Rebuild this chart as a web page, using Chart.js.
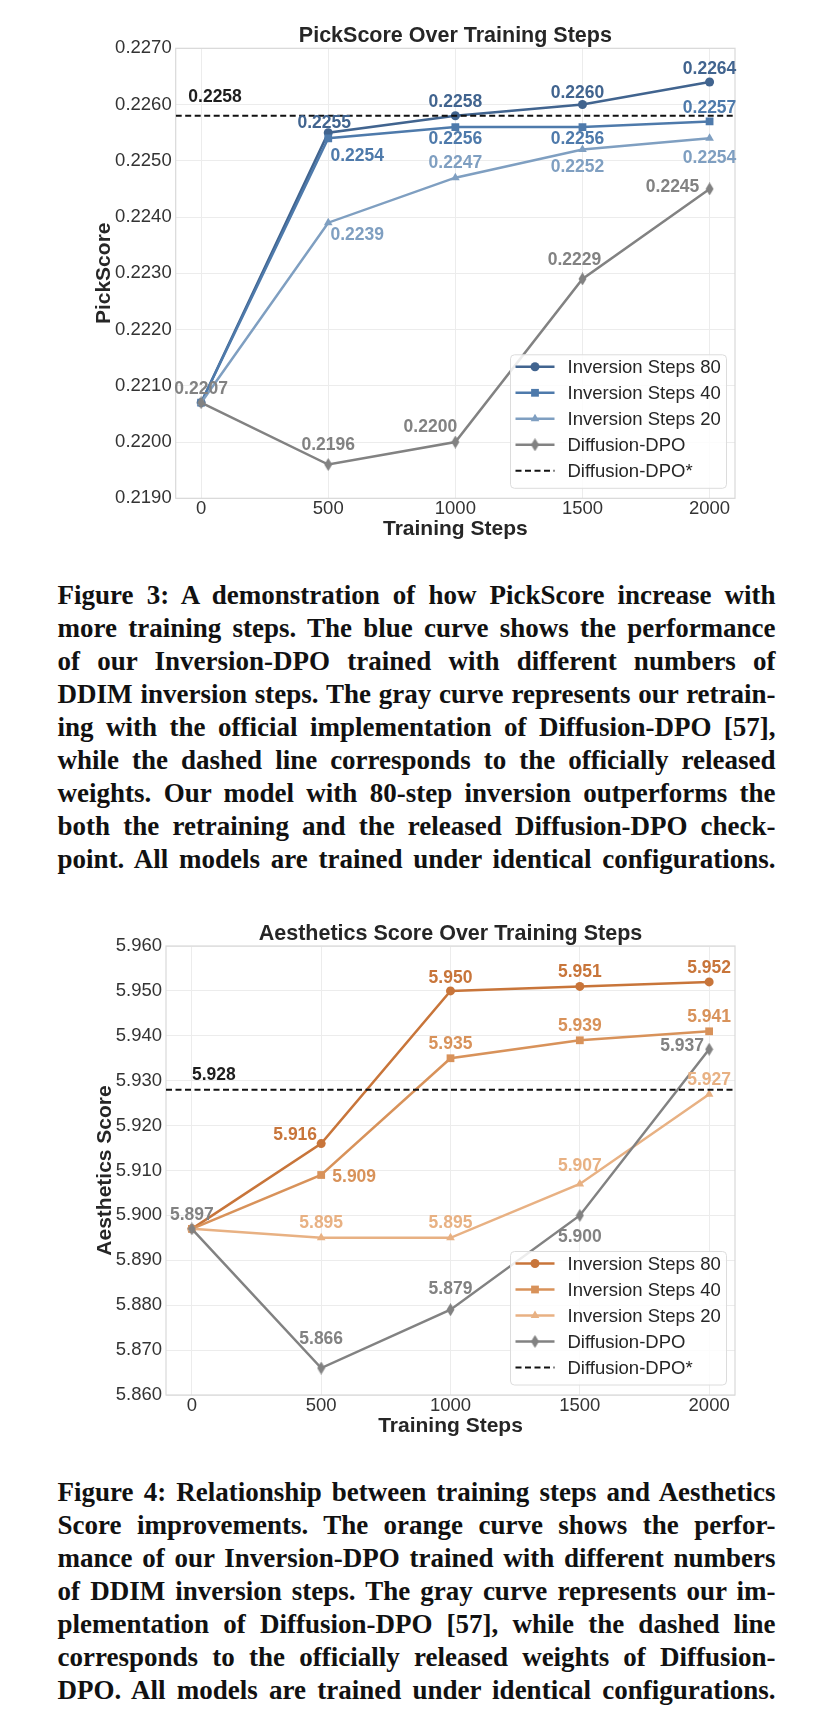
<!DOCTYPE html>
<html><head><meta charset="utf-8">
<script src="https://cdn.jsdelivr.net/npm/chart.js@4.4.1/dist/chart.umd.min.js"></script>
<style>
html,body{margin:0;padding:0;background:#fff;}
body{width:833px;height:1736px;position:relative;overflow:hidden;}
canvas{position:absolute;left:0;}
#c1{top:0;}
#c2{top:900px;}
.cap{position:absolute;left:57.6px;width:718px;font-family:'Liberation Serif','Times New Roman',serif;font-weight:bold;color:#111;font-size:25px;}
.cap div{height:33px;line-height:33px;text-align:justify;text-align-last:justify;}
#cap1{top:578.5px;}
#cap2{top:1475.5px;}
</style></head>
<body>
<canvas id="c1" width="833" height="545"></canvas>
<div class="cap" id="cap1">
<div>Figure 3: A demonstration of how PickScore increase with</div>
<div>more training steps. The blue curve shows the performance</div>
<div>of our Inversion-DPO trained with different numbers of</div>
<div>DDIM inversion steps. The gray curve represents our retrain-</div>
<div>ing with the official implementation of Diffusion-DPO [57],</div>
<div>while the dashed line corresponds to the officially released</div>
<div>weights. Our model with 80-step inversion outperforms the</div>
<div>both the retraining and the released Diffusion-DPO check-</div>
<div>point. All models are trained under identical configurations.</div>
</div>
<canvas id="c2" width="833" height="542"></canvas>
<div class="cap" id="cap2">
<div>Figure 4: Relationship between training steps and Aesthetics</div>
<div>Score improvements. The orange curve shows the perfor-</div>
<div>mance of our Inversion-DPO trained with different numbers</div>
<div>of DDIM inversion steps. The gray curve represents our im-</div>
<div>plementation of Diffusion-DPO [57], while the dashed line</div>
<div>corresponds to the officially released weights of Diffusion-</div>
<div>DPO. All models are trained under identical configurations.</div>
</div>
<script>
// ---------- DATA ----------
const steps = [0, 500, 1000, 1500, 2000];
const seriesNames = ['Inversion Steps 80', 'Inversion Steps 40', 'Inversion Steps 20', 'Diffusion-DPO', 'Diffusion-DPO*'];

const pick80  = [0.2207, 0.2255, 0.2258, 0.2260, 0.2264];
const pick40  = [0.2207, 0.2254, 0.2256, 0.2256, 0.2257];
const pick20  = [0.2207, 0.2239, 0.2247, 0.2252, 0.2254];
const pickDpo = [0.2207, 0.2196, 0.2200, 0.2229, 0.2245];
const pickDpoStar = 0.2258;
const pickYTicks = [0.2190, 0.2200, 0.2210, 0.2220, 0.2230, 0.2240, 0.2250, 0.2260, 0.2270];

const aes80  = [5.897, 5.916, 5.950, 5.951, 5.952];
const aes40  = [5.897, 5.909, 5.935, 5.939, 5.941];
const aes20  = [5.897, 5.895, 5.895, 5.907, 5.927];
const aesDpo = [5.897, 5.866, 5.879, 5.900, 5.937];
const aesDpoStar = 5.928;
const aesYTicks = [5.860, 5.870, 5.880, 5.890, 5.900, 5.910, 5.920, 5.930, 5.940, 5.950, 5.960];

// ---------- STYLE ----------
const FONT = '"Liberation Sans", Arial, Helvetica, sans-serif';
Chart.defaults.font.family = FONT;
const X_MIN = -100, X_MAX = 2100;

// label offsets [dx, dy] in px relative to the point (null = no label)
const pickLabelPos = [
  [null, [-4, -10], [0, -14], [-5, -11], [0, -13]],
  [null, [29, 18], [0, 12], [-5, 12], [0, -13]],
  [null, [29, 12], [0, -15], [-5, 18], [0, 20]],
  [[0, -14], [0, -19], [-25, -15], [-8, -19], [-37, -2]]
];
const aesLabelPos = [
  [null, [-26, -8], [0, -13], [0, -14], [0, -14]],
  [null, [33, 2], [0, -14], [0, -14], [0, -14]],
  [null, [0, -15], [0, -15], [0, -18], [0, -14]],
  [[0, -14], [0, -29], [0, -21], [0, 22], [-27, -3]]
];

function thinDiamond(color) {
  const c = document.createElement('canvas');
  c.width = 9; c.height = 13;
  const g = c.getContext('2d');
  g.fillStyle = color;
  g.beginPath(); g.moveTo(4.5, 0); g.lineTo(8.5, 6.5); g.lineTo(4.5, 13); g.lineTo(0.5, 6.5); g.closePath(); g.fill();
  return c;
}

function roundRect(ctx, x, y, w, h, r) {
  ctx.beginPath();
  ctx.moveTo(x + r, y); ctx.lineTo(x + w - r, y); ctx.quadraticCurveTo(x + w, y, x + w, y + r);
  ctx.lineTo(x + w, y + h - r); ctx.quadraticCurveTo(x + w, y + h, x + w - r, y + h);
  ctx.lineTo(x + r, y + h); ctx.quadraticCurveTo(x, y + h, x, y + h - r);
  ctx.lineTo(x, y + r); ctx.quadraticCurveTo(x, y, x + r, y); ctx.closePath();
}

function decorPlugin(cfg) {
  return {
    id: 'decor',
    beforeDatasetsDraw(chart) {
      const { ctx, chartArea: a } = chart;
      ctx.save();
      ctx.strokeStyle = '#d9d9d9'; ctx.lineWidth = 1.2;
      ctx.strokeRect(a.left, a.top, a.right - a.left, a.bottom - a.top);
      ctx.restore();
    },
    afterDraw(chart) {
      const { ctx, chartArea: a } = chart;
      const xs = chart.scales.x, ys = chart.scales.y;
      ctx.save();
      // title
      ctx.font = 'bold 21.5px ' + FONT; ctx.fillStyle = '#262626';
      ctx.textAlign = 'center'; ctx.textBaseline = 'middle';
      ctx.fillText(cfg.title, (a.left + a.right) / 2, a.top - 12);
      // value labels
      ctx.font = 'bold 17.5px ' + FONT;
      cfg.series.forEach((vals, si) => {
        vals.forEach((v, i) => {
          const p = cfg.labelPos[si][i];
          if (!p) return;
          ctx.fillStyle = cfg.colors[si];
          ctx.fillText(v.toFixed(cfg.dec), xs.getPixelForValue(steps[i]) + p[0], ys.getPixelForValue(v) + p[1]);
        });
      });
      // Diffusion-DPO* label
      ctx.fillStyle = '#1e1e1e'; ctx.textAlign = 'left';
      ctx.fillText(cfg.star.toFixed(cfg.dec), a.left + cfg.starDx, ys.getPixelForValue(cfg.star) + cfg.starDy);
      // legend
      const bw = 216, bh = 133.5;
      const bx = a.right - 8.5 - bw, by = a.bottom - 10 - bh;
      roundRect(ctx, bx, by, bw, bh, 4);
      ctx.fillStyle = 'rgba(255,255,255,0.85)'; ctx.fill();
      ctx.strokeStyle = '#dcdcdc'; ctx.lineWidth = 1; ctx.stroke();
      chart.data.datasets.forEach((ds, k) => {
        const ry = by + 12 + 26 * k;
        ctx.strokeStyle = ds.borderColor; ctx.lineWidth = ds.borderWidth;
        ctx.setLineDash(ds.borderDash || []);
        ctx.beginPath(); ctx.moveTo(bx + 5, ry); ctx.lineTo(bx + 44, ry); ctx.stroke();
        ctx.setLineDash([]);
        if (ds.pointRadius > 0) {
          ctx.fillStyle = ds.borderColor;
          Chart.helpers.drawPoint(ctx, { pointStyle: ds.pointStyle, radius: ds.pointRadius, rotation: 0, borderWidth: 0 }, bx + 24.5, ry);
        }
        ctx.fillStyle = '#262626'; ctx.font = '18.5px ' + FONT;
        ctx.textAlign = 'left'; ctx.textBaseline = 'middle';
        ctx.fillText(ds.label, bx + 57, ry + 1);
      });
      ctx.restore();
    }
  };
}

function makeChart(id, cfg) {
  const styles = [
    { ps: 'circle', r: 4.5 },
    { ps: 'rect', r: 5.5 },
    { ps: 'triangle', r: 5 },
    { ps: thinDiamond(cfg.colors[3]), r: 5 }
  ];
  const datasets = cfg.series.map((vals, si) => ({
    label: seriesNames[si],
    data: vals.map((v, i) => ({ x: steps[i], y: v })),
    borderColor: cfg.colors[si], backgroundColor: cfg.colors[si],
    pointBackgroundColor: cfg.colors[si], pointBorderWidth: 0,
    borderWidth: 2.5, pointStyle: styles[si].ps, pointRadius: styles[si].r,
    tension: 0, order: 5 - si
  }));
  datasets.push({
    label: seriesNames[4],
    data: [{ x: X_MIN, y: cfg.star }, { x: X_MAX, y: cfg.star }],
    borderColor: '#111', backgroundColor: '#111', borderWidth: 2, borderDash: [6, 3.5],
    pointRadius: 0, tension: 0, order: 0
  });
  const ticks = cfg.yTicks;
  return new Chart(document.getElementById(id), {
    type: 'line',
    data: { datasets },
    options: {
      responsive: false, animation: false, devicePixelRatio: 1,
      layout: { autoPadding: false, padding: { left: 0, right: 833 - cfg.right, top: cfg.top, bottom: 0 } },
      plugins: { legend: { display: false }, tooltip: { enabled: false }, title: { display: false } },
      scales: {
        x: {
          type: 'linear', min: X_MIN, max: X_MAX,
          afterBuildTicks: s => { s.ticks = steps.map(v => ({ value: v })); },
          afterFit: s => { s.height = cfg.xh; },
          ticks: { padding: 1.5, color: '#333', font: { size: 18.5, lineHeight: 1 }, maxRotation: 0, autoSkip: false, callback: v => String(v) },
          grid: { color: '#ececec', drawTicks: false, lineWidth: 1 },
          border: { display: false },
          title: { display: true, text: 'Training Steps', color: '#262626', font: { size: 21, weight: 'bold' }, padding: { top: 0, bottom: cfg.xtp } }
        },
        y: {
          type: 'linear', min: ticks[0], max: ticks[ticks.length - 1],
          afterBuildTicks: s => { s.ticks = ticks.map(v => ({ value: v })); },
          afterFit: s => { s.width = cfg.left; },
          ticks: { padding: 4, color: '#333', font: { size: 18.5 }, autoSkip: false, callback: v => Number(v).toFixed(cfg.dec) },
          grid: { color: '#ececec', drawTicks: false, lineWidth: 1 },
          border: { display: false },
          title: { display: true, text: cfg.yTitle, color: '#262626', font: { size: 21, weight: 'bold' }, padding: { top: cfg.ytp, bottom: 0 } }
        }
      }
    },
    plugins: [decorPlugin(cfg)]
  });
}

makeChart('c1', {
  title: 'PickScore Over Training Steps', yTitle: 'PickScore',
  series: [pick80, pick40, pick20, pickDpo], star: pickDpoStar, yTicks: pickYTicks, dec: 4,
  colors: ['#41648f', '#4e7aab', '#7f9fc1', '#828282'],
  labelPos: pickLabelPos,
  left: 175.7, right: 735, top: 48.3, xh: 46.7, xtp: 3.4, ytp: 91.4,
  starDx: 12.6, starDy: -19
});
makeChart('c2', {
  title: 'Aesthetics Score Over Training Steps', yTitle: 'Aesthetics Score',
  series: [aes80, aes40, aes20, aesDpo], star: aesDpoStar, yTicks: aesYTicks, dec: 3,
  colors: ['#c8753a', '#d8925a', '#e8b183', '#828282'],
  labelPos: aesLabelPos,
  left: 166, right: 735, top: 46, xh: 47, xtp: 2.8, ytp: 92.4,
  starDx: 26, starDy: -14.6
});

// fit caption font so the widest line just fits the column
(function () {
  const m = document.createElement('canvas').getContext('2d');
  m.font = 'bold 100px "Liberation Serif"';
  let maxW = 0;
  document.querySelectorAll('.cap div').forEach(d => { maxW = Math.max(maxW, m.measureText(d.textContent).width); });
  const size = Math.min(27, 100 * 712 / maxW);
  document.querySelectorAll('.cap').forEach(c => { c.style.fontSize = size + 'px'; });
})();
</script>
</body></html>
